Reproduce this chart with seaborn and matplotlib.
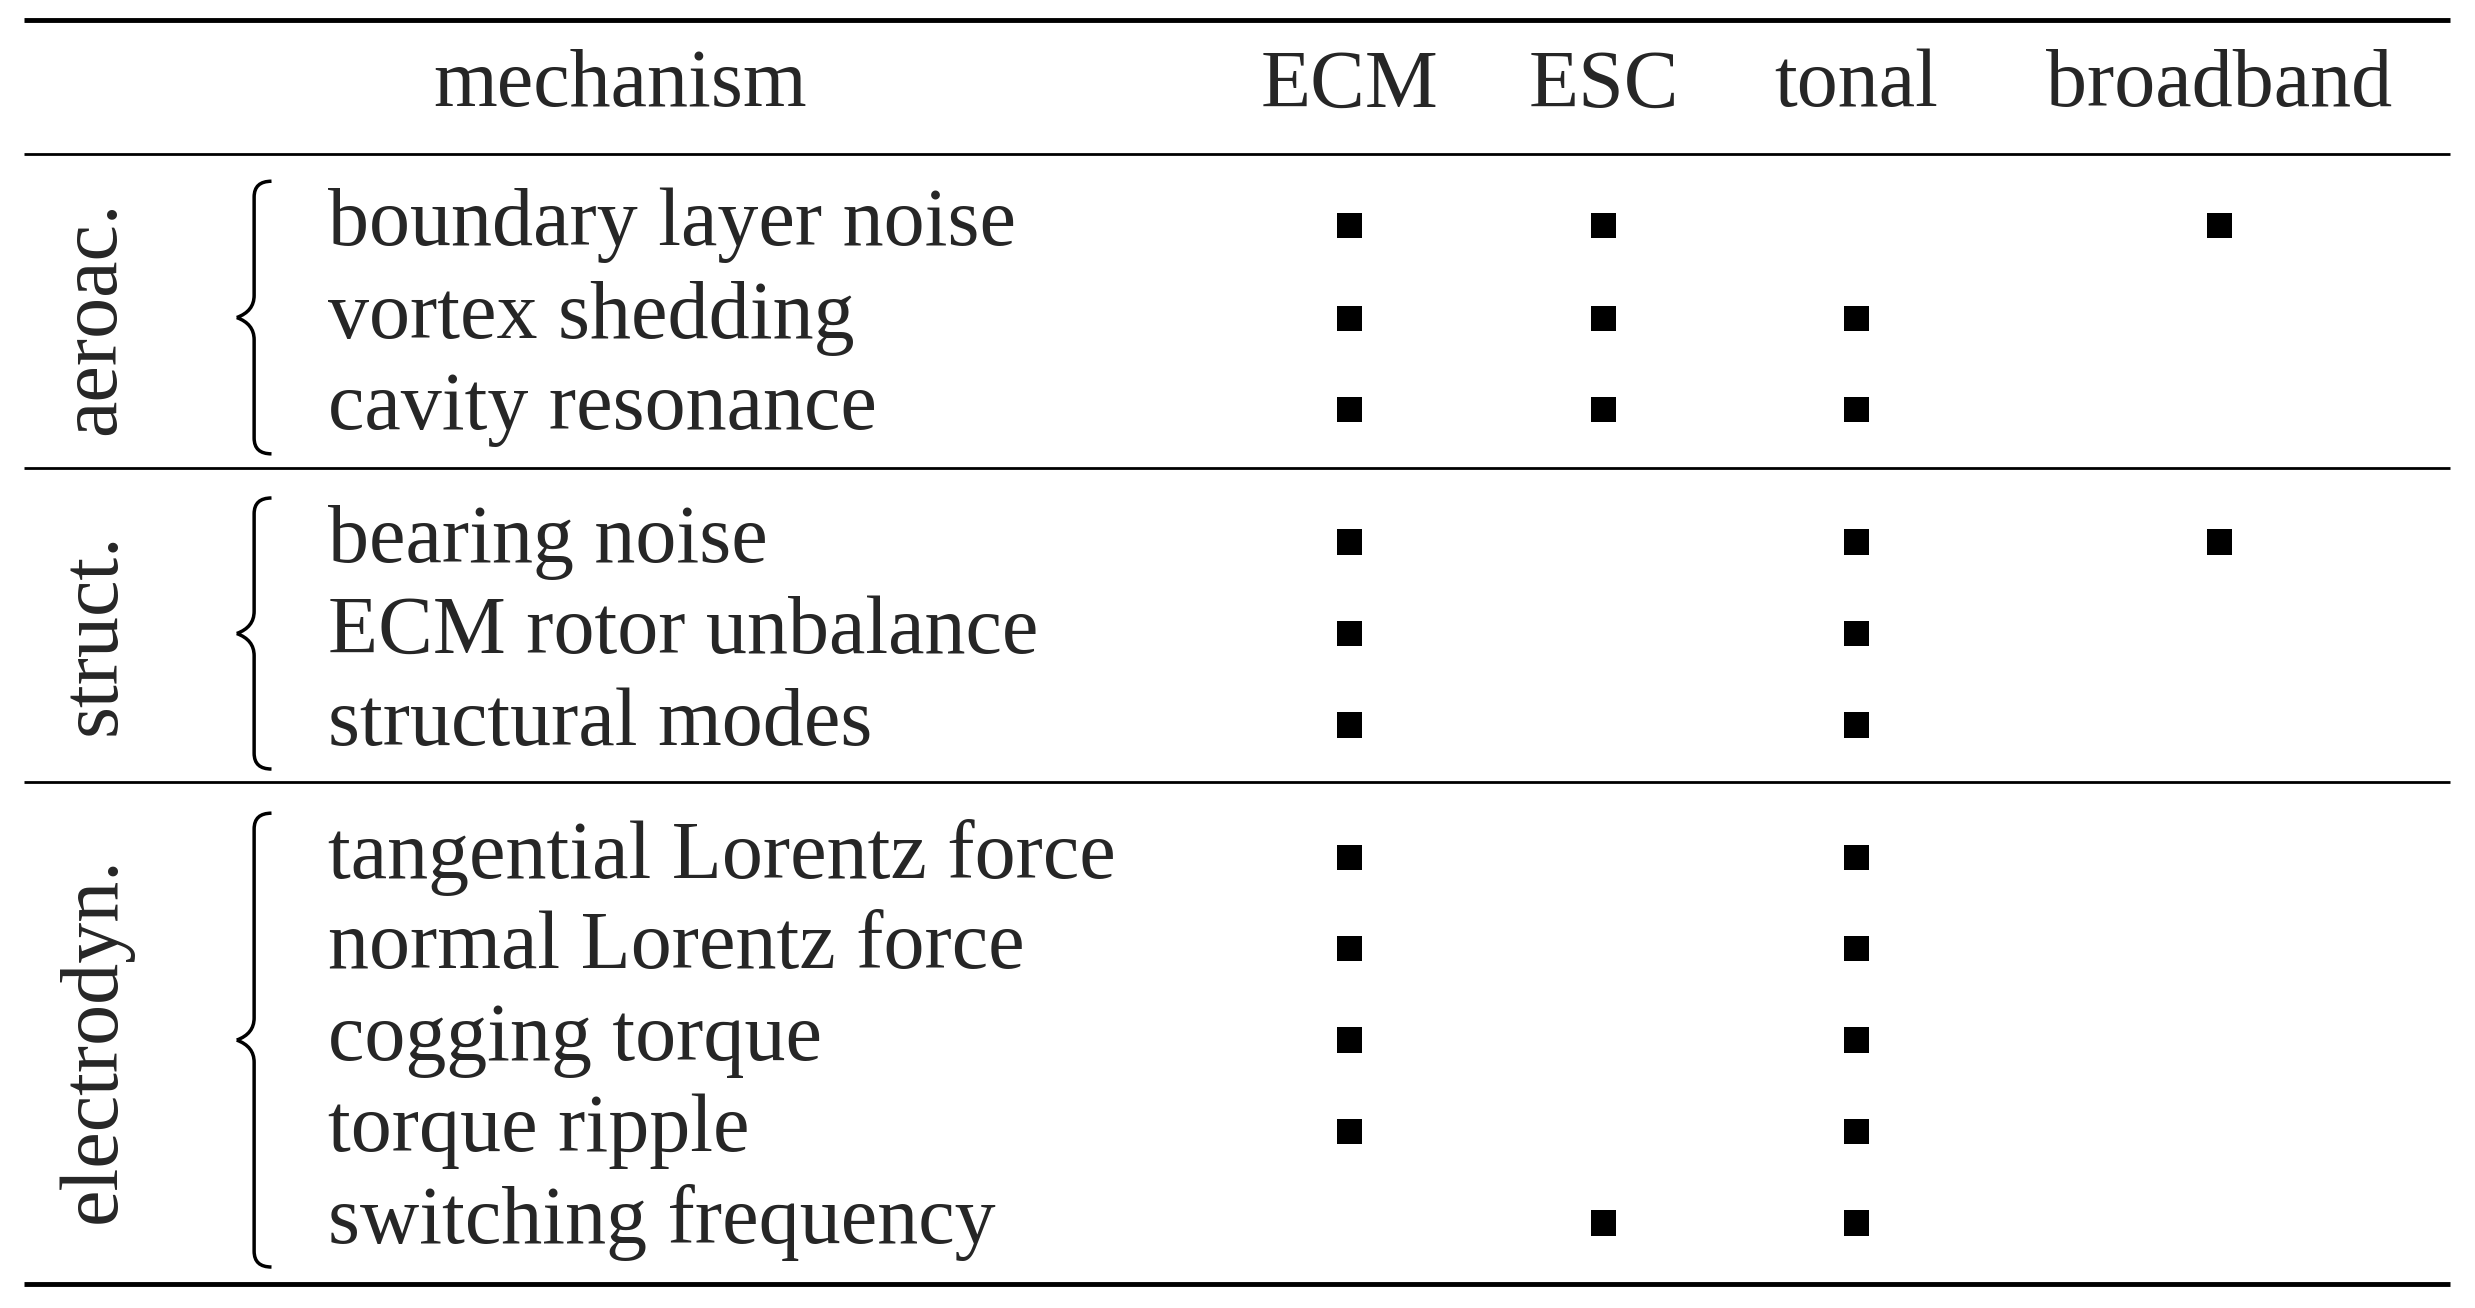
import matplotlib
matplotlib.use("Agg")
import matplotlib.pyplot as plt
import seaborn as sns
import pandas as pd
import numpy as np
from matplotlib.path import Path
from matplotlib.patches import PathPatch

sns.set_theme(style="white")
plt.rcParams['font.family'] = ['Liberation Serif', 'DejaVu Serif']

columns = ["ECM", "ESC", "tonal", "broadband"]
groups = ["aeroac.", "struct.", "electrodyn."]
group_sizes = [3, 3, 5]
mechanisms = ["boundary layer noise", "vortex shedding", "cavity resonance",
              "bearing noise", "ECM rotor unbalance", "structural modes",
              "tangential Lorentz force", "normal Lorentz force", "cogging torque",
              "torque ripple", "switching frequency"]
ECM = [1, 1, 1, 1, 1, 1, 1, 1, 1, 1, 0]
ESC = [1, 1, 1, 0, 0, 0, 0, 0, 0, 0, 1]
tonal = [0, 1, 1, 1, 1, 1, 1, 1, 1, 1, 1]
broadband = [1, 0, 0, 1, 0, 0, 0, 0, 0, 0, 0]

# layout (image-pixel coordinate system of a 1568x830 view)
W, H = 1568, 830
col_x = [855, 1016, 1176, 1406]
row_y = [143, 202, 260, 344, 402, 460, 544, 602, 660, 718, 776]

recs = []
for ci, (cname, vals) in enumerate(zip(columns, [ECM, ESC, tonal, broadband])):
    for ri, v in enumerate(vals):
        if v:
            recs.append({"x": col_x[ci], "y": row_y[ri]})
df = pd.DataFrame(recs)

fig = plt.figure(figsize=(24.75, 13.08), dpi=100)
ax = fig.add_axes([0, 0, 1, 1])
ax.set_xlim(0, W)
ax.set_ylim(H, 0)
ax.axis("off")

sns.scatterplot(data=df, x="x", y="y", marker="s", s=330, color="black",
                edgecolor="none", ax=ax, legend=False)

fs = 59
ax.text(393, 55, "mechanism", fontsize=fs, ha="center", va="center")
for cx, c in zip(col_x, columns):
    ax.text(cx, 55, c, fontsize=fs, ha="center", va="center")
for ry, m in zip(row_y, mechanisms):
    ax.text(208, ry, m, fontsize=fs, ha="left", va="center")

# rules
ax.hlines([13, 815], 15, 1552, color="black", lw=3.5)
ax.hlines([98, 297, 496], 15, 1552, color="black", lw=2)

# group labels & braces
start = 0
for g, n in zip(groups, group_sizes):
    ys = row_y[start:start + n]
    top, bot = ys[0] - 28, ys[-1] + 28
    mid = (top + bot) / 2
    ax.text(60, mid, g, fontsize=fs, rotation=90, ha="center", va="center")
    xr, xl = 172, 150
    xm = (xr + xl) / 2
    verts = [(xr, top), (xm, top), (xm, top + 10), (xm, mid - 14),
             (xm, mid - 4), (xl, mid), (xl, mid),
             (xl, mid), (xm, mid + 4), (xm, mid + 14),
             (xm, bot - 10), (xm, bot), (xr, bot)]
    codes = [Path.MOVETO, Path.CURVE3, Path.CURVE3, Path.LINETO,
             Path.CURVE3, Path.CURVE3, Path.LINETO,
             Path.MOVETO, Path.CURVE3, Path.CURVE3, Path.LINETO,
             Path.CURVE3, Path.CURVE3]
    ax.add_patch(PathPatch(Path(verts, codes), fill=False, lw=2.5, color="black"))
    start += n

fig.savefig("out.png", dpi=100, facecolor="white")
